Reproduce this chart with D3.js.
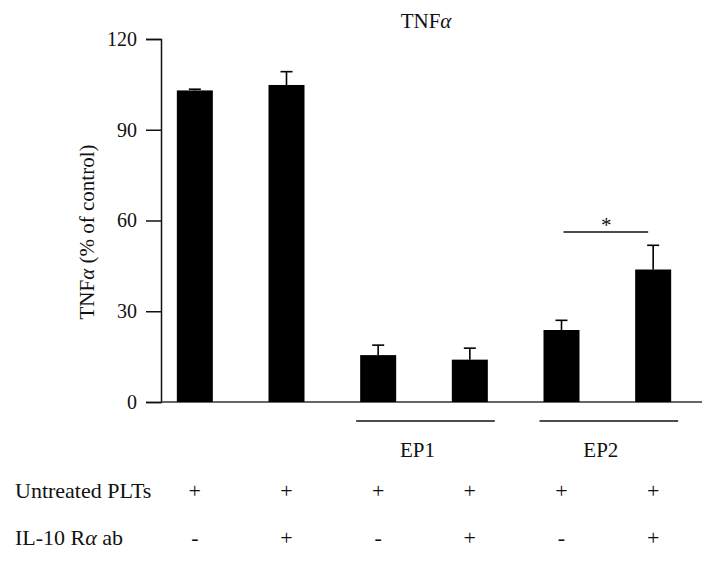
<!DOCTYPE html>
<html>
<head>
<meta charset="utf-8">
<script src="https://cdn.jsdelivr.net/npm/d3@7"></script>
<style>
  body { margin: 0; background: #fff; }
  text { font-family: "Liberation Serif", "DejaVu Serif", serif; fill: #111; }
</style>
</head>
<body>
<div id="chart"></div>
<script>
// values
const groups = ['c1', 'c2', 'ep1a', 'ep1b', 'ep2a', 'ep2b'];
const means = [103, 104.8, 15.5, 14, 23.8, 43.8];
const errors = [0.4, 4.4, 3.3, 3.8, 3.2, 8.0];
const untreated = ['+', '+', '+', '+', '+', '+'];
const il10 = ['-', '+', '-', '+', '-', '+'];
const yTicks = [0, 30, 60, 90, 120];
const brackets = [{label: 'EP1', from: 2, to: 3}, {label: 'EP2', from: 4, to: 5}];

const width = 717, height = 568;

const svg = d3.select('#chart')
    .append('svg')
    .attr('width', width)
    .attr('height', height);

const x = d3.scalePoint()
    .domain(groups)
    .range([149, 699])
    .padding(0.5);

const y = d3.scaleLinear()
    .domain([0, 120])
    .range([402, 39]);

const barW = 36;

// y axis
const yAxis = svg.append('g')
    .attr('transform', 'translate(161,0)')
    .call(d3.axisLeft(y).tickValues(yTicks).tickSize(15).tickPadding(9));
yAxis.select('.domain').attr('stroke', '#111').attr('stroke-width', 1.5);
yAxis.selectAll('.tick line').attr('stroke', '#111').attr('stroke-width', 1.5);
yAxis.selectAll('.tick text')
    .attr('font-size', 20)
    .attr('font-family', '"Liberation Serif", serif')
    .attr('fill', '#111');

// x baseline
svg.append('line')
    .attr('x1', 161).attr('x2', 702)
    .attr('y1', y(0)).attr('y2', y(0))
    .attr('stroke', '#333').attr('stroke-width', 1.5);

// bars
svg.selectAll('rect.bar')
    .data(groups)
    .enter()
    .append('rect')
    .attr('class', 'bar')
    .attr('x', d => x(d) - barW / 2)
    .attr('width', barW)
    .attr('y', (d, i) => y(means[i]))
    .attr('height', (d, i) => y(0) - y(means[i]))
    .attr('fill', '#000');

// error bars (upper only)
const err = svg.selectAll('g.err')
    .data(groups)
    .enter()
    .append('g')
    .attr('class', 'err');
err.append('line')
    .attr('x1', d => x(d)).attr('x2', d => x(d))
    .attr('y1', (d, i) => y(means[i]))
    .attr('y2', (d, i) => y(means[i] + errors[i]))
    .attr('stroke', '#000').attr('stroke-width', 1.6);
err.append('line')
    .attr('x1', d => x(d) - 6).attr('x2', d => x(d) + 6)
    .attr('y1', (d, i) => y(means[i] + errors[i]))
    .attr('y2', (d, i) => y(means[i] + errors[i]))
    .attr('stroke', '#000').attr('stroke-width', 1.6);

// significance marker
svg.append('line')
    .attr('x1', x(groups[4]) + 2).attr('x2', x(groups[5]) - 5)
    .attr('y1', 232).attr('y2', 232)
    .attr('stroke', '#111').attr('stroke-width', 1.5);
svg.append('text')
    .attr('x', (x(groups[4]) + x(groups[5])) / 2 - 1)
    .attr('y', 232)
    .attr('text-anchor', 'middle')
    .attr('font-size', 21)
    .text('*');

// title
const title = svg.append('text')
    .attr('x', 426).attr('y', 28)
    .attr('text-anchor', 'middle')
    .attr('font-size', 21);
title.append('tspan').text('TNF');
title.append('tspan').attr('font-style', 'italic').text('α');

// y label
const yl = svg.append('text')
    .attr('transform', 'translate(94,232) rotate(-90)')
    .attr('text-anchor', 'middle')
    .attr('font-size', 21);
yl.append('tspan').text('TNF');
yl.append('tspan').attr('font-style', 'italic').text('α');
yl.append('tspan').text(' (% of control)');

// EP brackets
brackets.forEach(b => {
    const x1 = x(groups[b.from]) - 22;
    const x2 = x(groups[b.to]) + 25;
    svg.append('line')
        .attr('x1', x1).attr('x2', x2)
        .attr('y1', 421).attr('y2', 421)
        .attr('stroke', '#111').attr('stroke-width', 1.5);
    svg.append('text')
        .attr('x', (x1 + x2) / 2 - 8)
        .attr('y', 457)
        .attr('text-anchor', 'middle')
        .attr('font-size', 21)
        .text(b.label);
});

// condition rows
svg.append('text')
    .attr('x', 15).attr('y', 498)
    .attr('font-size', 22)
    .text('Untreated PLTs');
const il = svg.append('text')
    .attr('x', 15).attr('y', 545)
    .attr('font-size', 22);
il.append('tspan').text('IL-10 R');
il.append('tspan').attr('font-style', 'italic').text('α');
il.append('tspan').text(' ab');

svg.selectAll('text.row1')
    .data(groups)
    .enter()
    .append('text')
    .attr('class', 'row1')
    .attr('x', d => x(d))
    .attr('y', 498)
    .attr('text-anchor', 'middle')
    .attr('font-size', 22)
    .text((d, i) => untreated[i]);

svg.selectAll('text.row2')
    .data(groups)
    .enter()
    .append('text')
    .attr('class', 'row2')
    .attr('x', d => x(d))
    .attr('y', 545)
    .attr('text-anchor', 'middle')
    .attr('font-size', 22)
    .text((d, i) => il10[i]);
</script>
</body>
</html>
